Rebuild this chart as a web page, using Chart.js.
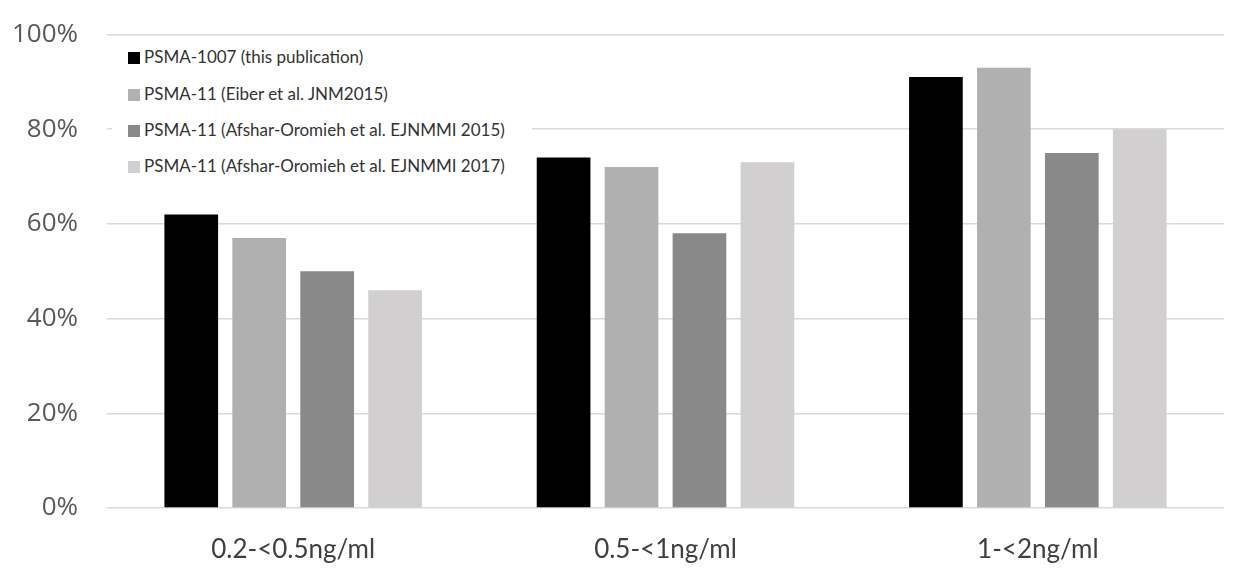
<!DOCTYPE html>
<html>
<head>
<meta charset="utf-8">
<script src="https://cdn.jsdelivr.net/npm/chart.js@4.4.1/dist/chart.umd.min.js"></script>
<style>
  html, body { margin: 0; padding: 0; background: #fff; }
  #wrap { position: relative; width: 1254px; height: 586px; }
  #legend { position: absolute; left: 112px; top: 40px; width: 420px; height: 146px; background: #fff;
            font-family: Lato, "Open Sans", sans-serif; font-size: 17px; color: #333; }
  .item { position: absolute; left: 16px; height: 22px; line-height: 22px; white-space: nowrap; }
  .box { display: inline-block; width: 12px; height: 12px; margin-right: 4px; vertical-align: -1px; }
</style>
</head>
<body>
<div id="wrap">
  <canvas id="c" width="1254" height="586"></canvas>
  <div id="legend"></div>
</div>
<script>
const categories = ["0.2-<0.5ng/ml", "0.5-<1ng/ml", "1-<2ng/ml"];
const seriesNames = [
  "PSMA-1007 (this publication)",
  "PSMA-11 (Eiber et al. JNM2015)",
  "PSMA-11 (Afshar-Oromieh et al. EJNMMI 2015)",
  "PSMA-11 (Afshar-Oromieh et al. EJNMMI 2017)"
];
const psma1007 = [62, 74, 91];
const eiber2015 = [57, 72, 93];
const afshar2015 = [50, 58, 75];
const afshar2017 = [46, 73, 80];
const yTicks = [0, 20, 40, 60, 80, 100];
const colors = ["#000000", "#b0b0b0", "#898989", "#d1cfcf"];

const values = [psma1007, eiber2015, afshar2015, afshar2017];
const datasets = values.map((v, i) => ({
  label: seriesNames[i],
  data: v,
  backgroundColor: colors[i],
  borderWidth: 0,
  barPercentage: 0.79,
  categoryPercentage: 0.73
}));

new Chart(document.getElementById("c"), {
  type: "bar",
  data: { labels: categories, datasets },
  options: {
    responsive: false,
    animation: false,
    layout: { padding: { top: 34.5, right: 30, left: 0, bottom: 0 } },
    plugins: { legend: { display: false }, tooltip: { enabled: false } },
    scales: {
      x: {
        grid: { display: false, drawTicks: false },
        border: { display: false },
        ticks: { color: "#404040", padding: 26,
          font: { family: "Lato, 'Open Sans', sans-serif", size: 26 } },
        afterFit: s => { s.height = 78; s.paddingLeft = 0; s.paddingRight = 0; }
      },
      y: {
        min: 0, max: 100,
        afterBuildTicks: s => { s.ticks = yTicks.map(v => ({ value: v })); },
        grid: { color: "#d9d9d9", lineWidth: 1.5, drawTicks: false },
        border: { display: false },
        ticks: { color: "#595959", padding: 29, callback: v => v + "%",
          font: { family: "'Open Sans', 'DejaVu Sans', sans-serif", size: 26 } },
        afterFit: s => { s.width = 107; s.paddingTop = 0; s.paddingBottom = 0; }
      }
    }
  }
});

const leg = document.getElementById("legend");
const rowTops = [6, 43, 79, 115];
seriesNames.forEach((name, i) => {
  const d = document.createElement("div");
  d.className = "item";
  d.style.top = rowTops[i] + "px";
  const b = document.createElement("span");
  b.className = "box";
  b.style.background = colors[i];
  d.appendChild(b);
  d.appendChild(document.createTextNode(name));
  leg.appendChild(d);
});
</script>
</body>
</html>
